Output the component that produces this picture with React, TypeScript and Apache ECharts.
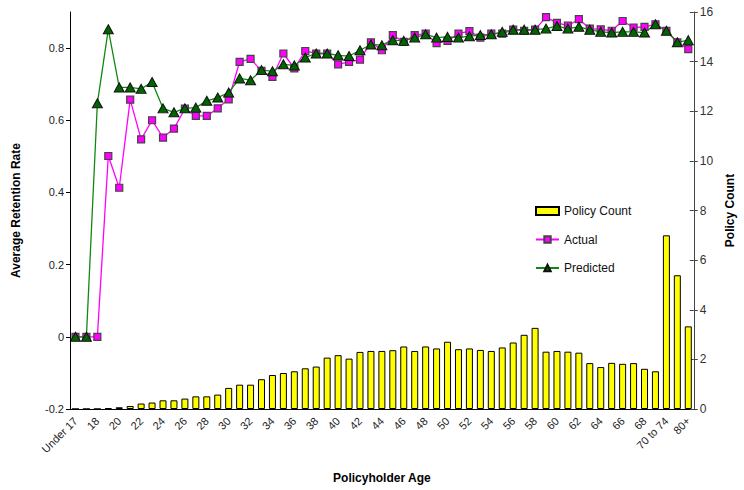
import React, { useEffect, useRef } from "react";
import * as echarts from "echarts";

const categories = [
  "Under 17", "17", "18", "19", "20", "21", "22", "23", "24", "25",
  "26", "27", "28", "29", "30", "31", "32", "33", "34", "35",
  "36", "37", "38", "39", "40", "41", "42", "43", "44", "45",
  "46", "47", "48", "49", "50", "51", "52", "53", "54", "55",
  "56", "57", "58", "59", "60", "61", "62", "63", "64", "65",
  "66", "67", "68", "69", "70 to 74", "75 to 79", "80+",
];

const policyCount = [
  0, 0, 0, 0.03, 0.07, 0.12, 0.22, 0.26, 0.35, 0.35,
  0.42, 0.51, 0.51, 0.58, 0.85, 0.98, 0.98, 1.2, 1.37, 1.45,
  1.52, 1.64, 1.71, 2.07, 2.17, 2.03, 2.3, 2.34, 2.34, 2.37,
  2.52, 2.34, 2.52, 2.44, 2.71, 2.41, 2.44, 2.38, 2.34, 2.48,
  2.68, 2.99, 3.27, 2.31, 2.34, 2.31, 2.27, 1.85, 1.69, 1.86,
  1.82, 1.85, 1.62, 1.52, 7.0, 5.39, 3.33,
];

const actual = [
  0, 0, 0, 0.501, 0.413, 0.657, 0.547, 0.6, 0.552, 0.577,
  0.632, 0.612, 0.612, 0.633, 0.658, 0.762, 0.77, 0.737, 0.72, 0.785,
  0.744, 0.792, 0.785, 0.785, 0.755, 0.762, 0.768, 0.816, 0.794, 0.836,
  0.817, 0.836, 0.84, 0.814, 0.82, 0.84, 0.847, 0.829, 0.84, 0.84,
  0.851, 0.848, 0.851, 0.886, 0.87, 0.862, 0.88, 0.854, 0.852, 0.848,
  0.875, 0.857, 0.859, 0.866, 0.848, 0.816, 0.797,
];

const predicted = [
  0, 0, 0.647, 0.852, 0.691, 0.691, 0.687, 0.706, 0.633, 0.622,
  0.633, 0.635, 0.654, 0.663, 0.677, 0.716, 0.711, 0.739, 0.736, 0.755,
  0.752, 0.774, 0.785, 0.785, 0.78, 0.778, 0.794, 0.81, 0.808, 0.822,
  0.82, 0.829, 0.838, 0.829, 0.831, 0.829, 0.833, 0.836, 0.838, 0.845,
  0.851, 0.851, 0.851, 0.854, 0.861, 0.854, 0.859, 0.851, 0.845, 0.843,
  0.845, 0.845, 0.843, 0.866, 0.848, 0.816, 0.822,
];

const leftTicks = [-0.2, 0, 0.2, 0.4, 0.6, 0.8];

const FONT = "'Liberation Sans', Arial, sans-serif";

export default function App() {
  const ref = useRef<HTMLDivElement>(null);
  useEffect(() => {
    document.body.style.margin = "0";
    const chart = echarts.init(ref.current!, null, { renderer: "svg" });
    chart.setOption({
      animation: false,
      backgroundColor: "#ffffff",
      textStyle: { fontFamily: FONT },
      grid: { left: 70, right: 45, top: 12, bottom: 81, containLabel: false },
      legend: {
        orient: "vertical",
        left: 535,
        top: 205,
        padding: 0,
        itemGap: 16.5,
        itemWidth: 23,
        itemHeight: 8,
        textStyle: { fontFamily: FONT, fontSize: 12, color: "#111" },
        data: [
          { name: "Policy Count", icon: "rect" },
          { name: "Actual" },
          { name: "Predicted" },
        ],
      },
      xAxis: {
        type: "category",
        data: categories,
        boundaryGap: true,
        name: "Policyholder Age",
        nameLocation: "middle",
        nameGap: 63,
        nameTextStyle: { fontFamily: FONT, fontSize: 12, fontWeight: "bold", color: "#000" },
        axisLine: { onZero: false, lineStyle: { color: "#000", width: 1 } },
        axisTick: { interval: 0, length: 4, lineStyle: { color: "#000" } },
        axisLabel: {
          interval: 1,
          rotate: 45,
          fontSize: 11,
          color: "#222",
          margin: 10,
          fontFamily: FONT,
        },
        splitLine: { show: false },
      },
      yAxis: [
        {
          type: "value",
          position: "left",
          min: -0.2,
          max: 0.9,
          interval: 0.2,
          name: "Average Retention Rate",
          nameLocation: "middle",
          nameRotate: 90,
          nameGap: 48,
          nameTextStyle: { fontFamily: FONT, fontSize: 12, fontWeight: "bold", color: "#000" },
          axisLine: { show: true, onZero: false, lineStyle: { color: "#000", width: 1 } },
          axisTick: { show: true, length: 4, customValues: leftTicks, lineStyle: { color: "#000" } },
          axisLabel: {
            customValues: leftTicks,
            fontSize: 11,
            color: "#222",
            margin: 6,
            fontFamily: FONT,
            formatter: (v: number) => (Math.abs(v - 0.9) < 1e-6 ? "" : String(Math.round(v * 10) / 10)),
          },
          splitLine: { show: false },
        },
        {
          type: "value",
          position: "right",
          min: 0,
          max: 16,
          interval: 2,
          name: "Policy Count",
          nameLocation: "middle",
          nameRotate: 90,
          nameGap: 28,
          nameTextStyle: { fontFamily: FONT, fontSize: 12, fontWeight: "bold", color: "#000" },
          axisLine: { show: true, onZero: false, lineStyle: { color: "#444", width: 1 } },
          axisTick: { show: true, length: 4, lineStyle: { color: "#444" } },
          axisLabel: { fontSize: 12, color: "#333", margin: 6, fontFamily: FONT },
          splitLine: { show: false },
        },
        {
          type: "value",
          position: "right",
          offset: 0,
          min: 0,
          max: 16,
          interval: 2,
          axisLine: { show: false, onZero: false },
          axisTick: { show: true, inside: true, length: 4, lineStyle: { color: "#444" } },
          axisLabel: { show: false },
          splitLine: { show: false },
        },
      ],
      series: [
        {
          name: "Policy Count",
          type: "bar",
          yAxisIndex: 1,
          data: policyCount,
          barWidth: 7,
          itemStyle: { color: "#FFFF00", borderColor: "#000", borderWidth: 1 },
        },
        {
          name: "Actual",
          type: "line",
          yAxisIndex: 0,
          data: actual,
          symbol: "rect",
          symbolSize: 7,
          showAllSymbol: true,
          lineStyle: { color: "#FF00FF", width: 1.3 },
          itemStyle: { color: "#FF00FF", borderColor: "#444", borderWidth: 1.2 },
        },
        {
          name: "Predicted",
          type: "line",
          yAxisIndex: 0,
          data: predicted,
          symbol: "triangle",
          symbolSize: [10, 9],
          showAllSymbol: true,
          lineStyle: { color: "#118811", width: 1.3 },
          itemStyle: { color: "#006400", borderColor: "#111", borderWidth: 1 },
        },
      ],
    });
    return () => chart.dispose();
  }, []);
  return (
    <div
      ref={ref}
      style={{ position: "fixed", left: 0, top: 0, width: 744, height: 490 }}
    />
  );
}
